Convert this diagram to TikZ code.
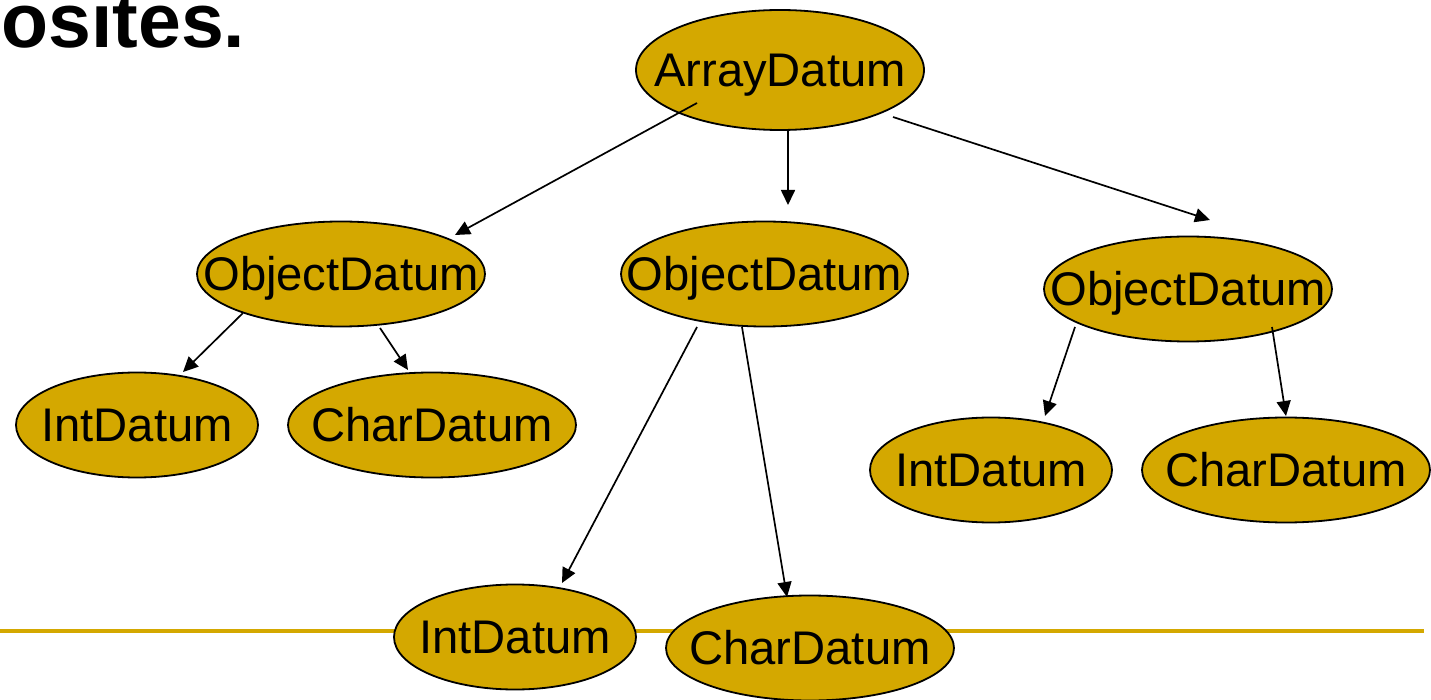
\documentclass[tikz,border=0pt]{standalone}
\usepackage{fontspec}
\setmainfont{Liberation Sans}
\usetikzlibrary{shapes.geometric,arrows.meta}
\definecolor{gold}{RGB}{212,168,0}
% put a label in the middle of a node without letting it size the node
\newcommand{\eltext}[1]{\makebox[0pt]{\smash{\raisebox{-0.36em}{#1}}}}
\tikzset{
  datum/.style={ellipse, draw=black, line width=0.9pt, fill=gold, inner sep=0pt,
    minimum height=52.5pt, font=\fontsize{23.6}{28}\selectfont},
  wide/.style={datum, minimum width=144pt},
  narrow/.style={datum, minimum width=121pt},
  link/.style={line width=0.85pt, -{Triangle[length=7.5pt,width=7pt]}}
}
\begin{document}
\begin{tikzpicture}[x=0.5pt,y=-0.5pt]
\useasboundingbox (0,0) rectangle (1431,700);
\clip (0,0) rectangle (1431,700);

% heading fragment and rule
\node[anchor=base west, inner sep=0pt, font=\fontsize{38.5}{46}\bfseries\selectfont] (head) at (1,48) {osites.};
\coordinate (ruleL) at (0,631);
\coordinate (ruleR) at (1424,631);
\draw[gold, line width=2pt] (ruleL) -- (ruleR);

% tree of data
\node[wide, minimum height=60pt] (arr) at (780,70) {\eltext{ArrayDatum}};
\node[wide] (obL) at (341,274) {\eltext{ObjectDatum}};
\node[wide, minimum width=143.5pt] (obM) at (764.5,274) {\eltext{ObjectDatum}};
\node[wide] (obR) at (1188,289) {\eltext{ObjectDatum}};
\node[narrow] (intL) at (137,425) {\eltext{IntDatum}};
\node[wide] (chL) at (432,425) {\eltext{CharDatum}};
\node[narrow] (intR) at (991,470) {\eltext{IntDatum}};
\node[wide] (chR) at (1286,470) {\eltext{CharDatum}};
\node[narrow] (intB) at (515,637) {\eltext{IntDatum}};
\node[wide] (chB) at (810,648) {\eltext{CharDatum}};

% connectors
\draw[link] ([shift={(-83,33)}]arr.center) -- ([shift={(114,-39)}]obL.center);
\draw[link] ([shift={(8,61)}]arr.center) -- ([shift={(23.5,-69)}]obM.center);
\draw[link] ([shift={(113,47)}]arr.center) -- ([shift={(22,-69)}]obR.center);
\draw[link] ([shift={(-98,39)}]obL.center) -- ([shift={(46,-53)}]intL.center);
\draw[link] ([shift={(39,54)}]obL.center) -- ([shift={(-24,-55)}]chL.center);
\draw[link] ([shift={(-67.5,53)}]obM.center) -- ([shift={(47,-54)}]intB.center);
\draw[link] ([shift={(-22.5,53)}]obM.center) -- ([shift={(-23,-51)}]chB.center);
\draw[link] ([shift={(-113,38)}]obR.center) -- ([shift={(54,-54)}]intR.center);
\draw[link] ([shift={(84,38)}]obR.center) -- ([shift={(0,-54)}]chR.center);
\end{tikzpicture}
\end{document}
